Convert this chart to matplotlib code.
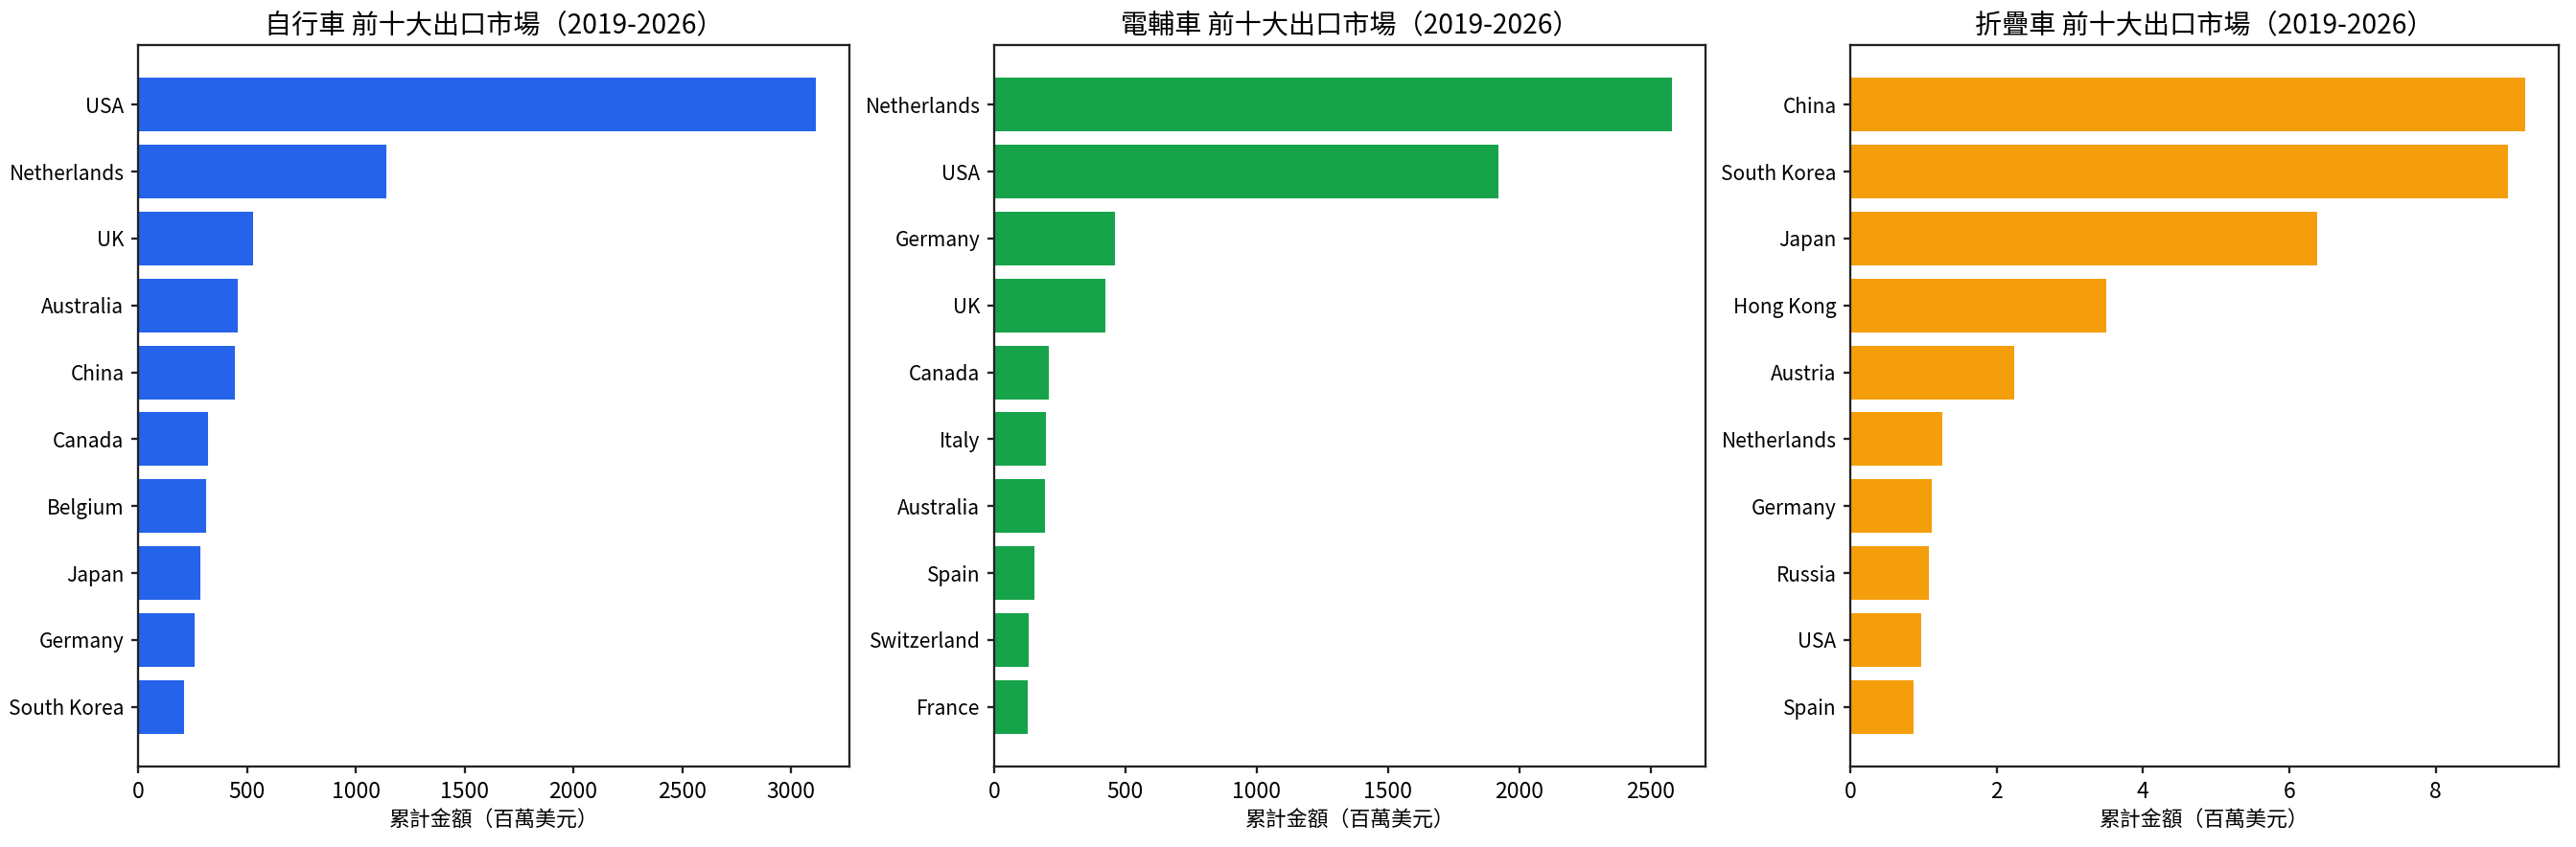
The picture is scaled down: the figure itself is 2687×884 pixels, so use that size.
import matplotlib
matplotlib.use("Agg")
import matplotlib.pyplot as plt

plt.rcParams['font.family'] = ['Noto Sans CJK TC', 'DejaVu Sans']

bike_countries = ["USA", "Netherlands", "UK", "Australia", "China", "Canada",
                  "Belgium", "Japan", "Germany", "South Korea"]
bike_values = [3113, 1143, 529, 459, 446, 322, 314, 286, 260, 211]

ebike_countries = ["Netherlands", "USA", "Germany", "UK", "Canada", "Italy",
                   "Australia", "Spain", "Switzerland", "France"]
ebike_values = [2580, 1921, 461, 422, 207, 196, 193, 152, 131, 127]

fold_countries = ["China", "South Korea", "Japan", "Hong Kong", "Austria",
                  "Netherlands", "Germany", "Russia", "USA", "Spain"]
fold_values = [9.22, 8.99, 6.38, 3.50, 2.24, 1.26, 1.11, 1.07, 0.97, 0.87]

titles = ["自行車 前十大出口市場（2019-2026）",
          "電輔車 前十大出口市場（2019-2026）",
          "折疊車 前十大出口市場（2019-2026）"]
colors = ["#2563eb", "#16a34a", "#f59e0b"]
xlabel = "累計金額（百萬美元）"

W, H, DPI = 2687, 884, 150
fig = plt.figure(figsize=(W / DPI, H / DPI), dpi=DPI)

lefts = [144, 1037, 1930]
rights = [886, 1779, 2669]
top, bottom = 47, 800

datasets = [(bike_countries, bike_values), (ebike_countries, ebike_values),
            (fold_countries, fold_values)]

for i, ((cats, vals), title, color) in enumerate(zip(datasets, titles, colors)):
    ax = fig.add_axes([lefts[i] / W, 1 - bottom / H,
                       (rights[i] - lefts[i]) / W, (bottom - top) / H])
    ax.barh(cats, vals, color=color, height=0.8)
    ax.invert_yaxis()
    ax.set_title(title, fontsize=13.5, pad=6)
    ax.set_xlabel(xlabel, fontsize=10.5)
    ax.tick_params(axis='y', labelsize=10, color='#222222', width=1.1, length=3.5)
    ax.tick_params(axis='x', labelsize=11, color='#222222', width=1.1, length=3.5)
    for s in ax.spines.values():
        s.set_color('#222222')
        s.set_linewidth(1.1)

fig.savefig("out.png", dpi=DPI)
